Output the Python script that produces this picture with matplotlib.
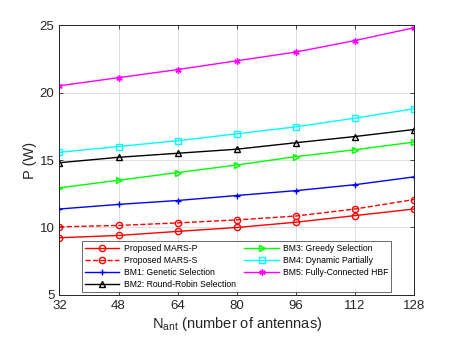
import matplotlib
matplotlib.use("Agg")
import matplotlib.pyplot as plt

plt.rcParams["font.family"] = ["Liberation Sans", "DejaVu Sans"]
plt.rcParams["mathtext.fontset"] = "custom"
plt.rcParams["mathtext.rm"] = "Liberation Sans"

# x axis: number of antennas
n_ant = [32, 48, 64, 80, 96, 112, 128]

# power consumption (W)
mars_p = [9.24, 9.41, 9.71, 10.0, 10.39, 10.88, 11.37]
mars_s = [10.05, 10.15, 10.34, 10.56, 10.85, 11.37, 12.07]
bm1_genetic = [11.37, 11.71, 12.0, 12.37, 12.73, 13.17, 13.75]
bm2_round_robin = [14.8, 15.2, 15.5, 15.8, 16.28, 16.74, 17.26]
bm3_greedy = [12.94, 13.5, 14.07, 14.63, 15.25, 15.76, 16.33]
bm4_dynamic = [15.57, 16.0, 16.43, 16.94, 17.46, 18.1, 18.8]
bm5_fully = [20.5, 21.1, 21.7, 22.35, 23.0, 23.85, 24.8]

# asterisk like matlab's '*'
asterisk = (6, 2, 0)

series = [
    ("Proposed MARS-P", mars_p, "#ff0000", "-", "o"),
    ("Proposed MARS-S", mars_s, "#ff0000", "--", "o"),
    ("BM1: Genetic Selection", bm1_genetic, "#0000ff", "-", "+"),
    ("BM2: Round-Robin Selection", bm2_round_robin, "#000000", "-", "^"),
    ("BM3: Greedy Selection", bm3_greedy, "#00ff00", "-", ">"),
    ("BM4: Dynamic Partially", bm4_dynamic, "#00ffff", "-", "s"),
    ("BM5: Fully-Connected HBF", bm5_fully, "#ff00ff", "-", asterisk),
]

fig = plt.figure(figsize=(4.57, 3.43), dpi=100)
ax = fig.add_axes([0.130, 0.140, 0.776, 0.787])

for label, vals, color, ls, marker in series:
    ax.plot(n_ant, vals, color=color, linestyle=ls, marker=marker,
            markersize=4.5, markerfacecolor="none", markeredgewidth=1.0,
            linewidth=1.0, label=label)

ax.set_xlim(32, 128)
ax.set_ylim(5, 25)
ax.set_xticks(n_ant)
ax.set_yticks([5, 10, 15, 20, 25])
ax.grid(True, color="#dedede", linewidth=0.7)
ax.set_axisbelow(True)
ax.tick_params(direction="in", top=True, right=True, length=3,
               labelsize=9.5, colors="#262626", width=0.6)
for sp in ax.spines.values():
    sp.set_color("#262626")
    sp.set_linewidth(0.7)

ax.set_xlabel(r"N$_{\mathrm{ant}}$ (number of antennas)", fontsize=10.5,
              color="#262626", labelpad=2)
ax.set_ylabel("P (W)", fontsize=10.5, color="#262626", labelpad=2)

leg = ax.legend(loc="lower center", ncol=2, fontsize=6.2, frameon=True,
                fancybox=False, edgecolor="#262626", handlelength=4.0,
                handletextpad=0.5, columnspacing=1.0, labelspacing=0.35,
                borderaxespad=0.4, borderpad=0.3, numpoints=1)
leg.get_frame().set_linewidth(0.6)

fig.savefig("out.png", dpi=100)
